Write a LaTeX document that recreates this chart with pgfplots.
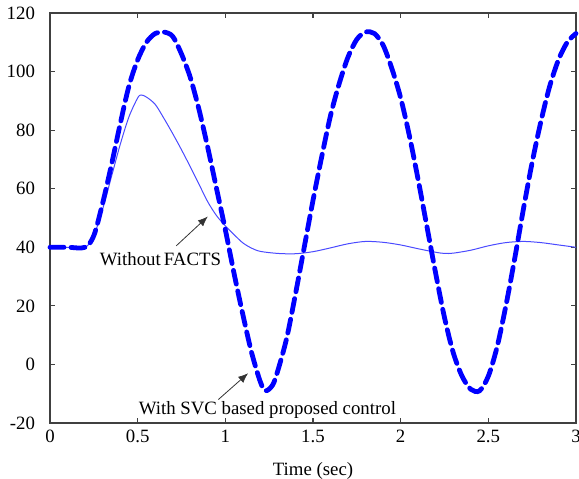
\documentclass[border=0pt]{standalone}
\usepackage{fontspec}
\setmainfont{Liberation Serif}
\usepackage{pgfplots}
\pgfplotsset{compat=1.18}
\usetikzlibrary{arrows.meta, calc}
\definecolor{svc}{HTML}{0000FF}
\definecolor{nofacts}{HTML}{4A4AFF}

\begin{document}
\begin{tikzpicture}[font=\fontsize{9.4}{11}\selectfont]
  \begin{axis}[
    scale only axis,
    width=263pt, height=205pt,
    xmin=0, xmax=3, ymin=-20, ymax=120,
    xtick={0,0.5,...,3}, ytick={-20,0,...,120},
    tick align=inside,
    major tick length=2.5pt,
    axis line style={black!75, line width=0.7pt},
    tick style={black!75, line width=0.6pt},
    xlabel={Time (sec)},
    xlabel style={yshift=-3pt},
    yticklabel style={xshift=-4pt},
    /pgf/number format/assume math mode=true,
    clip=false,
  ]
    % without FACTS
    \addplot[nofacts, line width=0.5pt, smooth] coordinates {
      (0,40) (0.1,40) (0.2,40) (0.25,44) (0.3,53) (0.35,64) (0.4,75)
      (0.45,84.5) (0.5,91) (0.52,92) (0.55,91.3) (0.6,88.8) (0.65,84)
      (0.7,78.8) (0.75,73.3) (0.8,67.5) (0.85,61.5) (0.9,55.5) (0.95,50.8)
      (1.0,47.3) (1.05,44.3) (1.1,41.5) (1.15,39.7) (1.2,38.6) (1.3,37.9)
      (1.4,37.8) (1.5,38.5) (1.6,39.8) (1.7,41.2) (1.8,42) (1.9,41.7)
      (2.0,40.8) (2.1,39.5) (2.2,38.3) (2.25,37.9) (2.3,38) (2.4,39)
      (2.5,40.5) (2.6,41.6) (2.7,42) (2.8,41.6) (2.9,40.8) (3.0,40)};
    % with SVC based proposed control
    \addplot[svc, line width=2.4pt, smooth, line cap=round,
             dash pattern=on 7pt off 3.5pt] coordinates {
      (0,40) (0.1,40) (0.2,40) (0.25,44) (0.3,55) (0.35,68) (0.4,82)
      (0.45,95) (0.5,104) (0.55,110) (0.6,113) (0.65,113.5) (0.7,112)
      (0.75,106) (0.8,98) (0.85,87) (0.9,74) (0.95,60) (1.0,46)
      (1.05,31) (1.1,17) (1.15,4) (1.2,-6) (1.23,-9) (1.27,-7)
      (1.3,-2) (1.35,9) (1.4,24) (1.45,40) (1.5,56) (1.55,71) (1.6,85)
      (1.65,96) (1.7,105) (1.75,111) (1.8,113.5) (1.85,113) (1.9,109)
      (1.95,101) (2.0,91) (2.05,78) (2.1,63) (2.15,47) (2.2,31)
      (2.25,16) (2.3,4) (2.35,-4) (2.4,-8.5) (2.45,-9) (2.5,-4)
      (2.55,6) (2.6,20) (2.65,36) (2.7,53) (2.75,69) (2.8,83)
      (2.85,95) (2.9,104) (2.95,110) (3.0,113)};
    \node at (axis cs:0.63,36) {Without\,FACTS};
    \draw[-{Latex[length=5pt,width=4pt]}, black!80, line width=0.4pt]
      (axis cs:0.72,40.5) -- (axis cs:0.9,50.5);
    \node at (axis cs:1.24,-15.6) {With SVC based proposed control};
    \draw[-{Latex[length=5pt,width=4pt]}, black!80, line width=0.4pt]
      (axis cs:0.96,-12) -- (axis cs:1.13,-3);
  \end{axis}
  \pgfresetboundingbox
  \path[use as bounding box]
    ($(current axis.south west)+(-25pt,-27.5pt)$) rectangle
    ($(current axis.north east)+(1.5pt,6.5pt)$);
\end{tikzpicture}
\end{document}
